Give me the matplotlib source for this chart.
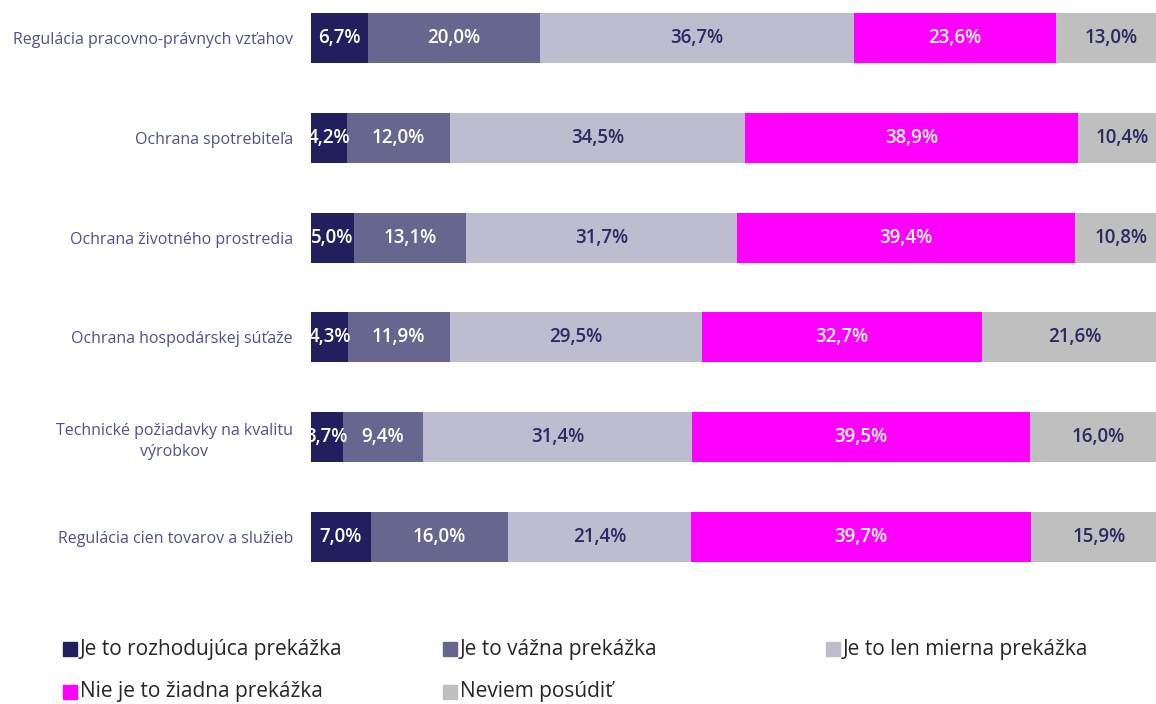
import matplotlib
matplotlib.use("Agg")
import matplotlib.pyplot as plt
from matplotlib.patches import Rectangle
import numpy as np

plt.rcParams["font.family"] = ["Open Sans", "DejaVu Sans"]

CATEGORIES = [
    "Regulácia pracovno-právnych vzťahov",
    "Ochrana spotrebiteľa",
    "Ochrana životného prostredia",
    "Ochrana hospodárskej súťaže",
    "Technické požiadavky na kvalitu\nvýrobkov",
    "Regulácia cien tovarov a služieb",
]
SERIES = [
    "Je to rozhodujúca prekážka",
    "Je to vážna prekážka",
    "Je to len mierna prekážka",
    "Nie je to žiadna prekážka",
    "Neviem posúdiť",
]
ROZHODUJUCA = [6.7, 4.2, 5.0, 4.3, 3.7, 7.0]
VAZNA = [20.0, 12.0, 13.1, 11.9, 9.4, 16.0]
MIERNA = [36.7, 34.5, 31.7, 29.5, 31.4, 21.4]
ZIADNA = [23.6, 38.9, 39.4, 32.7, 39.5, 39.7]
NEVIEM = [13.0, 10.4, 10.8, 21.6, 16.0, 15.9]

COLORS = ["#221f5f", "#67668f", "#bebdd0", "#ff00ff", "#bfbfbf"]
LABEL_COLORS = ["white", "white", "#2b2a63", "white", "#2b2a63"]

values = [ROZHODUJUCA, VAZNA, MIERNA, ZIADNA, NEVIEM]

fig = plt.figure(figsize=(11.56, 7.04), dpi=100)
# the plot area runs a little past the right edge of the picture (cropped original)
ax = fig.add_axes([311 / 1156, 1 - 562 / 704, 856 / 1156, 549 / 704])

y = np.arange(len(CATEGORIES))
left = np.zeros(len(CATEGORIES))
for vals, color, lc in zip(values, COLORS, LABEL_COLORS):
    vals = np.array(vals)
    ax.barh(y, vals, left=left, height=0.5, color=color, edgecolor="none")
    for yi, l, v in zip(y, left, vals):
        ax.text(l + v / 2, yi, f"{v:.1f}%".replace(".", ","), ha="center", va="center",
                color=lc, fontsize=13.5, fontweight="semibold", clip_on=True)
    left += vals

ax.set_xlim(0, 100)
ax.set_ylim(5.25, -0.25)
ax.set_yticks(y)
ax.set_yticklabels(CATEGORIES, fontsize=11.5, color="#50508a",
                   multialignment="center", linespacing=1.4)
ax.tick_params(axis="y", length=0, pad=13)
ax.set_xticks([])
for s in ax.spines.values():
    s.set_visible(False)

# legend laid out row-wise, three columns
legend_pos = [(63, 649), (443, 649), (826, 649), (63, 692), (443, 692)]
sq = 14
for (px, py), name, color in zip(legend_pos, SERIES, COLORS):
    fig.add_artist(Rectangle((px / 1156, 1 - (py + sq / 2) / 704), sq / 1156, sq / 704,
                             transform=fig.transFigure, color=color))
    fig.text((px + 17) / 1156, 1 - py / 704, name, ha="left", va="center",
             fontsize=15, color="#262626")

fig.savefig("out.png", dpi=100)
